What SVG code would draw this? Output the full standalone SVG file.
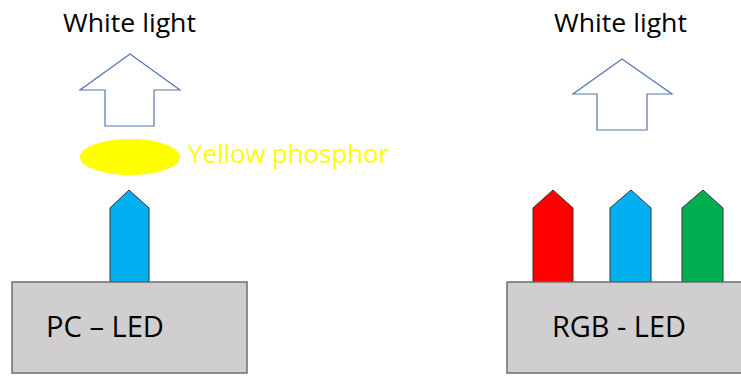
<svg xmlns="http://www.w3.org/2000/svg" width="741" height="376" viewBox="0 0 741 376">
<style>
.t{font-family:"Open Sans","Liberation Sans",sans-serif;fill:#000}
.out{fill:#fff;stroke:#5676b4;stroke-width:1.2}
.led{stroke:#333;stroke-width:1}
.base{fill:#d0cece;stroke:#6f6f6f;stroke-width:1.5}
</style>
<rect width="741" height="376" fill="#fff"/>
<g id="pc-white-label"><text class="t" x="63" y="32" font-size="26" textLength="133" lengthAdjust="spacingAndGlyphs">White light</text></g>
<g id="pc-white-arrow"><polygon class="out" points="130,54 180,90 154,90 154,126 105,126 105,90 80,90"/></g>
<g id="phosphor"><ellipse cx="130" cy="157" rx="50" ry="18" fill="#ffff00"/>
<text class="t" x="188" y="163" font-size="26" fill="#ffff00" style="fill:#ffff00" textLength="201" lengthAdjust="spacingAndGlyphs">Yellow phosphor</text></g>
<g id="pc-blue"><polygon class="led" fill="#00b0f0" points="129,190 149,208 149,282 110,282 110,208"/></g>
<g id="pc-led"><rect class="base" x="12" y="282" width="235" height="91"/>
<text class="t" x="46" y="337" font-size="30" textLength="118" lengthAdjust="spacingAndGlyphs">PC – LED</text></g>
<g id="rgb-white-label"><text class="t" x="554" y="32" font-size="26" textLength="133" lengthAdjust="spacingAndGlyphs">White light</text></g>
<g id="rgb-white-arrow"><polygon class="out" points="622,59 672,94 647,94 647,130 597,130 597,94 573,94"/></g>
<g id="rgb-red"><polygon class="led" fill="#ff0000" points="553,190 573,208 573,282 533,282 533,208"/></g>
<g id="rgb-blue"><polygon class="led" fill="#00b0f0" points="631,190 651,208 651,282 610,282 610,208"/></g>
<g id="rgb-green"><polygon class="led" fill="#00b050" points="703,190 723,208 723,282 682,282 682,208"/></g>
<g id="rgb-led"><rect class="base" x="507" y="282" width="240" height="91"/>
<text class="t" x="552" y="337" font-size="30" textLength="134" lengthAdjust="spacingAndGlyphs">RGB - LED</text></g>
<g id="connectors"></g>
</svg>
